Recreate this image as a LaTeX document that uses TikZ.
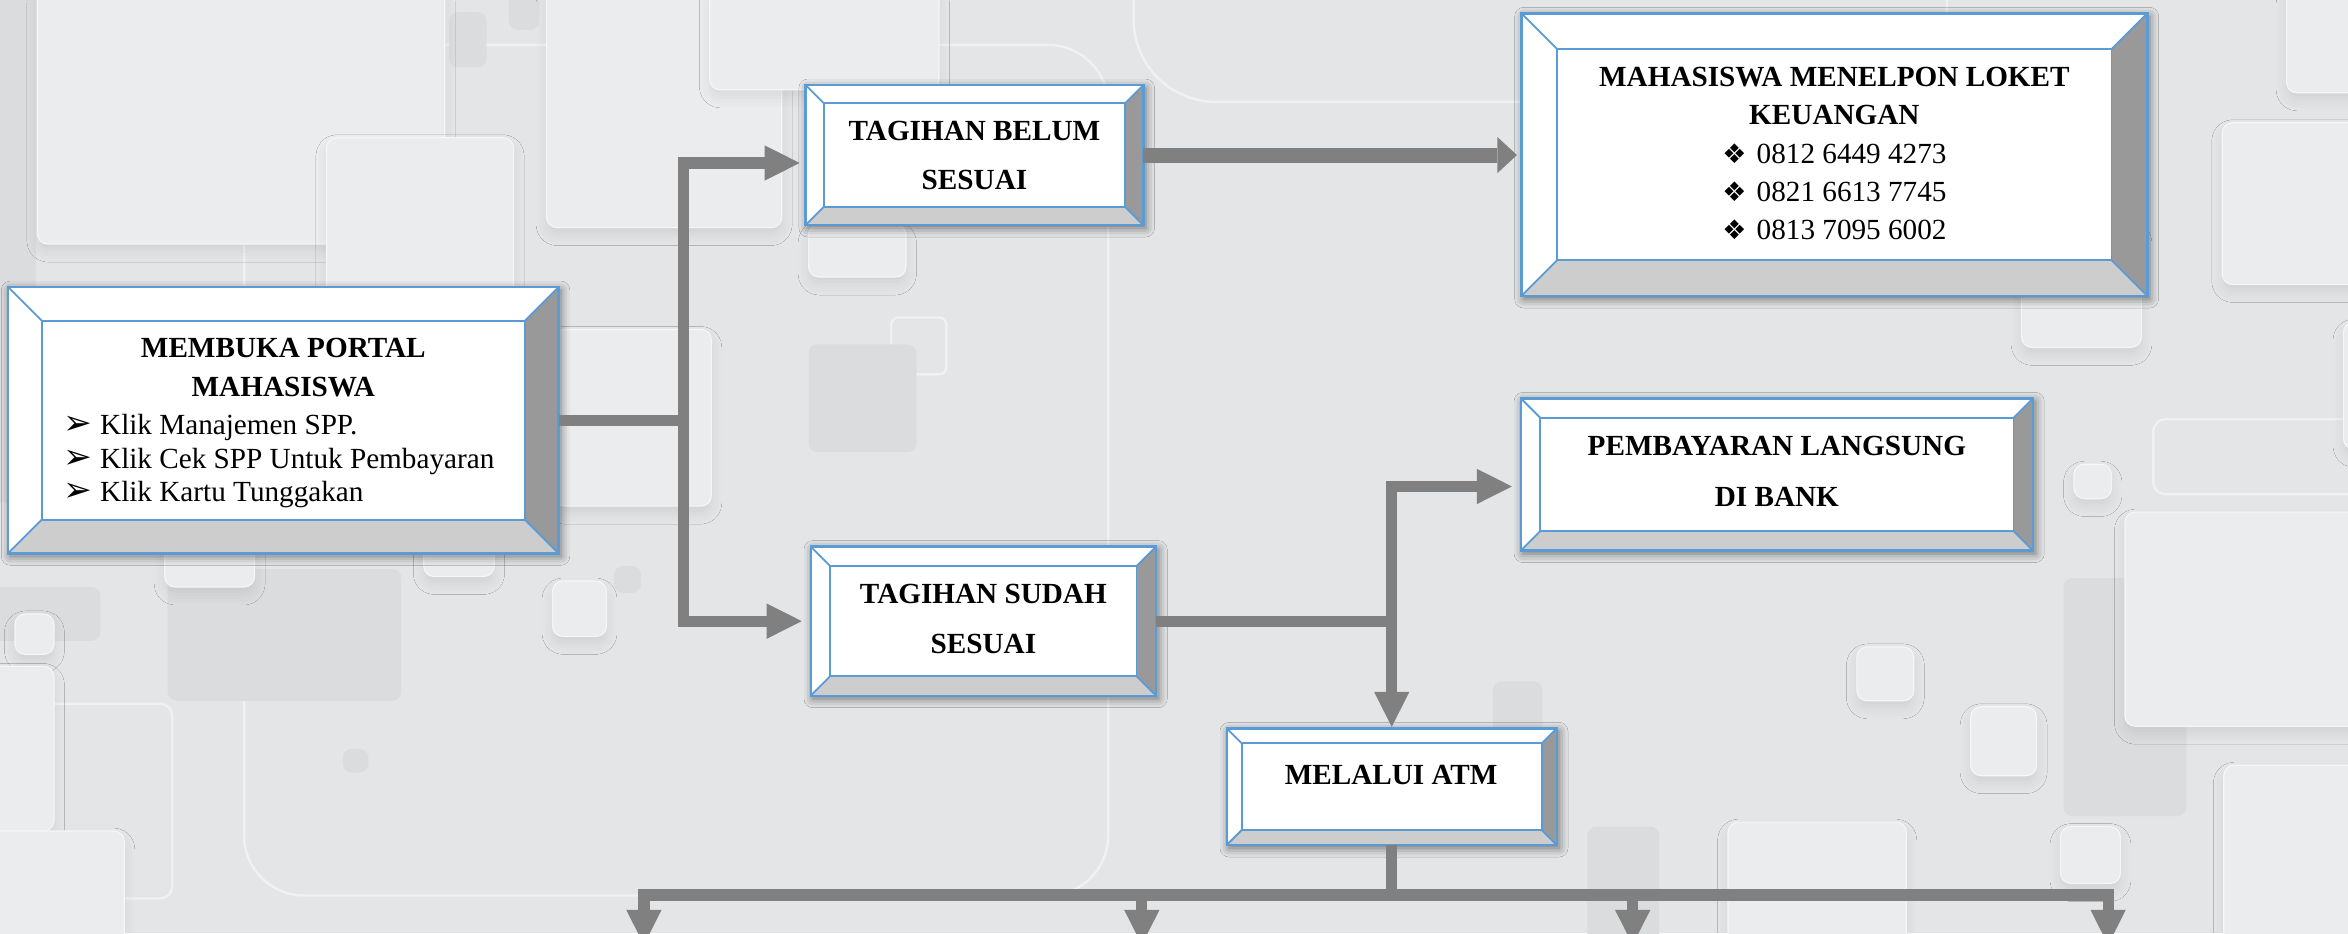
\documentclass[tikz,border=0pt]{standalone}
\usepackage{fontspec}
\setmainfont{Liberation Serif}
\newfontfamily\dvs{DejaVu Sans}
\usetikzlibrary{arrows.meta,shadows.blur,calc}
\definecolor{bg}{HTML}{E4E5E6}
\definecolor{lsqc}{HTML}{EBECED}
\definecolor{dsqc}{HTML}{DBDCDE}
\definecolor{bevblue}{HTML}{5B9BD5}
\definecolor{bevlight}{HTML}{CDCDCD}
\definecolor{bevdark}{HTML}{999999}
\definecolor{conngray}{HTML}{808080}
\newcommand\blt[1]{\makebox[293pt][l]{\makebox[24.2pt][l]{{\dvs\fontsize{23}{23}\selectfont ➢}}#1}}
\newcommand\dia[1]{\makebox[23pt][l]{{\dvs\fontsize{18}{18}\selectfont ❖}}#1}
\begin{document}
\begin{tikzpicture}[x=1pt,y=-1pt,
  lsq/.style={fill=lsqc, draw=white!55!lsqc, line width=0.8pt, rounded corners=7pt,
    blur shadow={shadow xshift=0pt, shadow yshift=-5pt, shadow blur radius=7pt, shadow opacity=8}},
  dsq/.style={fill=dsqc, rounded corners=6pt},
  osq/.style={draw=white!45!bg, line width=1.6pt, rounded corners=#1},
  bevnode/.style={fill=white, draw=none, inner sep=0pt, outer sep=0pt,
    blur shadow={shadow xshift=1.5pt, shadow yshift=-2pt, shadow blur radius=6pt, shadow opacity=55}},
  txt/.style={inner sep=0pt, outer sep=0pt, align=center},
  conn/.style={draw=conngray, line width=7.5pt, line join=miter},
  tipA/.style={-{Triangle[length=23.4pt,width=23.6pt,line width=0pt]}},
  tipB/.style={-{Triangle[length=13pt,width=24pt,line width=0pt]}}]
\useasboundingbox (0,0) rectangle (1568,623.07);
\clip (0,0) rectangle (1568,623.07);
% ---------- background ----------
\fill[bg] (0,0) rectangle (1568,623.07);
\fill[dsqc] (-10,-10) rectangle (24,335);
\draw[osq=40pt] (163,30) rectangle (740,598);
\draw[osq=55pt] (757,-300) rectangle (1300,68);
\draw[osq=8pt] (-20,470) rectangle (115,600);
\draw[osq=5pt] (595,212) rectangle (632,250);
\draw[osq=8pt] (1438,280) rectangle (1600,330);
\fill[dsq] (300,8) rectangle (325,45);
\fill[dsq] (340,-5) rectangle (360,20);
\fill[dsq] (112,380) rectangle (268,468);
\fill[dsq] (-10,392) rectangle (67,428);
\fill[dsq] (410,378) rectangle (428,396);
\fill[dsq] (540,230) rectangle (612,302);
\fill[dsq] (229,500) rectangle (246,516);
\fill[dsq] (1378,386) rectangle (1460,545);
\fill[dsq] (997,455) rectangle (1030,490);
\fill[dsq] (1060,552) rectangle (1108,640);
\path[lsq] (25,-10) rectangle (297,163);
\path[lsq] (218,92) rectangle (343,200);
\path[lsq] (365,-10) rectangle (522,152);
\path[lsq] (474,-10) rectangle (627,60);
\path[lsq] (540,150) rectangle (605,185);
\path[lsq] (370,220) rectangle (475,338);
\path[lsq] (110,340) rectangle (170,392);
\path[lsq] (283,340) rectangle (330,385);
\path[lsq] (10,410) rectangle (36,437);
\path[lsq] (-10,445) rectangle (36,555);
\path[lsq] (-10,555) rectangle (83,640);
\path[lsq] (369,388) rectangle (405,425);
\path[lsq] (1484,82) rectangle (1580,190);
\path[lsq] (1527,-10) rectangle (1580,62);
\path[lsq] (1565,215) rectangle (1600,300);
\path[lsq] (1350,150) rectangle (1430,232);
\path[lsq] (1385,310) rectangle (1410,333);
\path[lsq] (1419,342) rectangle (1580,485);
\path[lsq] (1316,472) rectangle (1360,518);
\path[lsq] (1240,432) rectangle (1278,468);
\path[lsq] (1154,549) rectangle (1273,640);
\path[lsq] (1485,511) rectangle (1580,640);
\path[lsq] (1376,552) rectangle (1416,590);
% ---------- boxes ----------
\node[bevnode, minimum width=367.6pt, minimum height=177.8pt] (B1) at (189.2,280.6) {};
\node[bevnode, minimum width=225.5pt, minimum height=93.5pt] (B2) at (650.75,103.55) {};
\node[bevnode, minimum width=418pt, minimum height=188.8pt] (B3) at (1225,103.3) {};
\node[bevnode, minimum width=342pt, minimum height=101.7pt] (B4) at (1186.6,316.85) {};
\node[bevnode, minimum width=230.6pt, minimum height=99.6pt] (B5) at (656.7,414.8) {};
\node[bevnode, minimum width=220.4pt, minimum height=77.9pt] (B6) at (929.4,525.35) {};
\foreach \n/\bv in {B1/22.5,B2/12,B3/24,B4/13,B5/13,B6/10}{
  \fill[bevlight] (\n.south west) -- (\n.south east) -- ([xshift=-\bv pt,yshift=\bv pt]\n.south east) -- ([xshift=\bv pt,yshift=\bv pt]\n.south west) -- cycle;
  \fill[bevdark] (\n.north east) -- (\n.south east) -- ([xshift=-\bv pt,yshift=\bv pt]\n.south east) -- ([xshift=-\bv pt,yshift=-\bv pt]\n.north east) -- cycle;
  \draw[bevblue, line width=1.2pt] ([xshift=\bv pt,yshift=\bv pt]\n.south west) rectangle ([xshift=-\bv pt,yshift=-\bv pt]\n.north east);
  \draw[bevblue, line width=1.2pt] (\n.south west) -- ++(\bv pt,\bv pt)
     (\n.south east) -- ++(-\bv pt,\bv pt)
     (\n.north east) -- ++(-\bv pt,-\bv pt)
     (\n.north west) -- ++(\bv pt,-\bv pt);
  \draw[bevblue, line width=1.6pt] (\n.south west) rectangle (\n.north east);
}
% ---------- texts ----------
\node[txt, font=\fontsize{19.5}{22.4}\selectfont] (t1) at (189.2,282.5)
  {{\bfseries MEMBUKA PORTAL}\\[3.6pt]{\bfseries MAHASISWA}\\[3.2pt]\blt{Klik Manajemen SPP.}\\\blt{Klik Cek SPP Untuk Pembayaran}\\\blt{Klik Kartu Tunggakan}};
\node[txt, font=\fontsize{19.5}{33}\selectfont\bfseries] (t2) at (650.75,104) {TAGIHAN BELUM\\SESUAI};
\node[txt, font=\fontsize{19.5}{25.7}\selectfont] (t3) at (1225,102.5)
  {{\bfseries MAHASISWA MENELPON LOKET}\\{\bfseries KEUANGAN}\\\dia{0812 6449 4273}\\\dia{0821 6613 7745}\\\dia{0813 7095 6002}};
\node[txt, font=\fontsize{19.5}{34}\selectfont\bfseries] (t4) at (1186.6,314.5) {PEMBAYARAN LANGSUNG\\DI BANK};
\node[txt, font=\fontsize{19.5}{33.8}\selectfont\bfseries] (t5) at (656.7,413.4) {TAGIHAN SUDAH\\SESUAI};
\node[txt, font=\fontsize{19.5}{22}\selectfont\bfseries] (t6) at (929,517.6) {MELALUI ATM};
% ---------- connectors ----------
\coordinate (j1) at (456.5,280.6);
\draw[conn] (B1.east) -- (j1);
\draw[conn,tipA,shorten >=4pt] (j1) |- ([yshift=-5.3pt]B2.west);
\draw[conn,tipA,shorten >=6pt] (j1) |- (B5.west);
\draw[conn,tipB,line width=10pt,shorten >=3pt] (B2.east) -- (B2.east -| B3.west);
\coordinate (j2) at (B6.north |- B5.east);
\draw[conn] (B5.east) -- (j2);
\draw[conn,tipA,shorten >=6pt] (j2) |- ([yshift=-8pt]B4.west);
\draw[conn,tipA,shorten >=1pt] (j2) -- (B6.north);
\coordinate (barL) at (426.25,597.7);
\coordinate (barR) at (1411.55,597.7);
\draw[conn] (B6.south) -- (B6.south |- barL);
\draw[conn] (barL) -- (barR);
\foreach \i/\xx in {1/430,2/762.5,3/1090.3,4/1407.8}{
  \coordinate (s\i) at (\xx,597.7);
  \coordinate (e\i) at (\xx,631);
  \draw[conn,tipA] (s\i) -- (e\i);
}
\end{tikzpicture}
\end{document}
